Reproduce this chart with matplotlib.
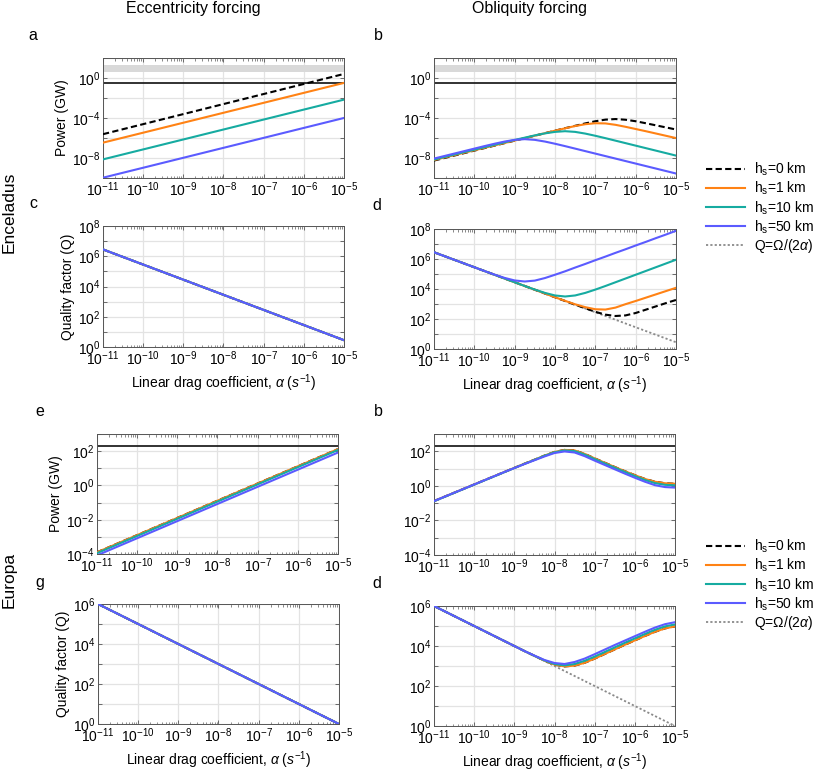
import numpy as np
import matplotlib
matplotlib.use('Agg')
import matplotlib.pyplot as plt
from matplotlib.ticker import FixedLocator, FuncFormatter, LogLocator, NullFormatter
from matplotlib.lines import Line2D

plt.rcParams['font.family'] = ['Liberation Sans', 'DejaVu Sans']
plt.rcParams['mathtext.fontset'] = 'custom'
plt.rcParams['mathtext.rm'] = 'Liberation Sans'
plt.rcParams['mathtext.it'] = 'Liberation Sans:italic'
plt.rcParams['mathtext.bf'] = 'Liberation Sans:bold'

# ---------------- data (log10 values) ----------------
# sample positions: log10(alpha) from -11 to -5 every 0.25 decade
log_alpha = np.arange(-11.0, -4.99, 0.25)
log_alpha_ends = [-11.0, -5.0]

series_labels = [r'h$_\mathregular{s}$=0 km', r'h$_\mathregular{s}$=1 km',
                 r'h$_\mathregular{s}$=10 km', r'h$_\mathregular{s}$=50 km']
q_label = r'Q=$\Omega$/(2$\alpha$)'

# Enceladus, eccentricity forcing power (log10 GW), straight lines
enc_ecc_P = {
    'h0':  [-5.60, 0.45],
    'h1':  [-6.45, -0.45],
    'h10': [-8.13, -2.13],
    'h50': [-9.97, -3.97],
}
# Enceladus, obliquity forcing power (log10 GW)
enc_obl_P_h0 = [-8.25, -8.00, -7.75, -7.50, -7.25, -7.00, -6.75, -6.50, -6.25, -6.00, -5.75, -5.50, -5.25,
                -5.00, -4.76, -4.52, -4.30, -4.14, -4.08, -4.15, -4.30, -4.50, -4.71, -4.92, -5.13]
enc_obl_P_h1 = [-8.20, -7.95, -7.71, -7.46, -7.22, -6.97, -6.73, -6.48, -6.24, -5.99, -5.75, -5.50, -5.25,
                -5.01, -4.78, -4.60, -4.50, -4.52, -4.66, -4.86, -5.08, -5.30, -5.53, -5.76, -5.99]
enc_obl_P_h10 = [-8.15, -7.90, -7.65, -7.40, -7.16, -6.91, -6.67, -6.42, -6.18, -5.95, -5.72, -5.52, -5.37,
                 -5.30, -5.37, -5.54, -5.76, -6.00, -6.25, -6.50, -6.75, -7.00, -7.25, -7.50, -7.75]
enc_obl_P_h50 = [-8.05, -7.80, -7.55, -7.30, -7.05, -6.80, -6.56, -6.34, -6.17, -6.10, -6.17, -6.34, -6.56,
                 -6.80, -7.05, -7.30, -7.55, -7.80, -8.05, -8.30, -8.55, -8.80, -9.05, -9.30, -9.55]
enc_heat_obs = -0.47          # black horizontal line (log10 GW)
enc_band = [0.63, 1.30]       # grey band (log10 GW)

# Enceladus Q, eccentricity forcing (all coincide with Q = Omega/(2 alpha))
enc_ecc_Q = [6.45, 0.45]
enc_Qref = [6.45, 0.45]
# Enceladus Q, obliquity forcing (log10 Q)
enc_obl_Q_h0 = [6.45, 6.20, 5.95, 5.70, 5.45, 5.20, 4.95, 4.70, 4.45, 4.20, 3.95, 3.70, 3.45,
                3.20, 2.95, 2.72, 2.48, 2.29, 2.20, 2.24, 2.40, 2.62, 2.84, 3.06, 3.27]
enc_obl_Q_h1 = [6.45, 6.20, 5.95, 5.70, 5.45, 5.20, 4.95, 4.70, 4.45, 4.20, 3.95, 3.70, 3.45,
                3.21, 2.98, 2.79, 2.65, 2.63, 2.76, 2.99, 3.20, 3.42, 3.64, 3.86, 4.08]
enc_obl_Q_h10 = [6.45, 6.20, 5.95, 5.70, 5.45, 5.20, 4.95, 4.70, 4.45, 4.20, 3.96, 3.74, 3.57,
                 3.50, 3.57, 3.74, 3.96, 4.20, 4.45, 4.70, 4.95, 5.20, 5.45, 5.70, 5.95]
enc_obl_Q_h50 = [6.45, 6.20, 5.95, 5.70, 5.45, 5.20, 4.96, 4.74, 4.57, 4.50, 4.56, 4.73, 4.95,
                 5.18, 5.43, 5.67, 5.92, 6.16, 6.41, 6.65, 6.90, 7.14, 7.39, 7.63, 7.88]

# Europa, eccentricity forcing power (log10 GW), straight lines
eur_ecc_P = {
    'h0':  [-3.90, 2.12],
    'h1':  [-3.90, 2.12],
    'h10': [-3.95, 2.07],
    'h50': [-4.08, 1.92],
}
# Europa, obliquity forcing power (log10 GW)
eur_obl_P_h0 = [-0.88, -0.64, -0.40, -0.16, 0.08, 0.32, 0.56, 0.80, 1.04, 1.28, 1.51, 1.75, 1.96,
                2.08, 2.05, 1.85, 1.59, 1.34, 1.09, 0.85, 0.62, 0.40, 0.24, 0.15, 0.12]
eur_obl_P_h1 = [-0.88, -0.64, -0.40, -0.16, 0.08, 0.32, 0.56, 0.80, 1.04, 1.28, 1.51, 1.75, 1.96,
                2.08, 2.05, 1.85, 1.59, 1.34, 1.09, 0.85, 0.62, 0.40, 0.24, 0.15, 0.12]
eur_obl_P_h10 = [-0.89, -0.65, -0.41, -0.17, 0.07, 0.31, 0.55, 0.79, 1.03, 1.27, 1.50, 1.74, 1.94,
                 2.05, 2.01, 1.81, 1.55, 1.30, 1.05, 0.81, 0.57, 0.34, 0.16, 0.06, 0.03]
eur_obl_P_h50 = [-0.88, -0.64, -0.40, -0.16, 0.08, 0.32, 0.56, 0.80, 1.03, 1.26, 1.48, 1.70, 1.90,
                 1.99, 1.93, 1.72, 1.46, 1.21, 0.96, 0.71, 0.47, 0.24, 0.04, -0.07, -0.10]
eur_heat_obs = 2.31

eur_ecc_Q = [6.0, 0.0]
eur_Qref = [6.0, 0.0]
eur_obl_Q_h0 = [6.00, 5.75, 5.50, 5.25, 5.00, 4.75, 4.50, 4.25, 4.00, 3.75, 3.51, 3.27, 3.07,
                2.98, 3.02, 3.16, 3.37, 3.60, 3.83, 4.06, 4.28, 4.50, 4.71, 4.88, 4.98]
eur_obl_Q_h1 = [6.00, 5.75, 5.50, 5.25, 5.00, 4.75, 4.50, 4.25, 4.00, 3.75, 3.51, 3.27, 3.07,
                2.98, 3.02, 3.16, 3.37, 3.60, 3.83, 4.06, 4.28, 4.50, 4.71, 4.88, 4.98]
eur_obl_Q_h10 = [6.00, 5.75, 5.50, 5.25, 5.00, 4.75, 4.50, 4.25, 4.00, 3.75, 3.51, 3.28, 3.10,
                 3.03, 3.10, 3.26, 3.47, 3.70, 3.93, 4.16, 4.38, 4.60, 4.81, 4.98, 5.08]
eur_obl_Q_h50 = [6.00, 5.75, 5.50, 5.25, 5.00, 4.75, 4.50, 4.25, 4.00, 3.75, 3.52, 3.30, 3.15,
                 3.10, 3.20, 3.37, 3.59, 3.82, 4.05, 4.27, 4.49, 4.71, 4.92, 5.09, 5.19]

# ---------------- styles ----------------
C_BLACK = '#000000'
C_ORANGE = '#ff8214'
C_TEAL = '#16aba1'
C_BLUE = '#5b5bff'
C_GREY = '#8a8a8a'
LW = 1.5
styles = [dict(color=C_BLACK, lw=LW, dashes=(3.0, 1.6)),
          dict(color=C_ORANGE, lw=LW),
          dict(color=C_TEAL, lw=LW),
          dict(color=C_BLUE, lw=LW)]
qstyle = dict(color=C_GREY, lw=1.3, dashes=(1.2, 1.2))

W, H = 817, 772
fig = plt.figure(figsize=(W / 100, H / 100), dpi=100)


def add_ax(l, r, t, b):
    return fig.add_axes([l / W, 1 - b / H, (r - l) / W, (b - t) / H])


def fmt_factory(labelled):
    def f(v, pos):
        e = int(round(np.log10(v)))
        if e in labelled:
            return r'$\mathregular{10^{%d}}$' % e
        return ''
    return f


def style_ax(ax, ylim, ymajor, ylab):
    ax.set_xscale('log')
    ax.set_yscale('log')
    ax.set_xlim(1e-11, 1e-5)
    ax.set_ylim(*ylim)
    ax.xaxis.set_major_locator(FixedLocator([10.0 ** k for k in range(-11, -4)]))
    ax.xaxis.set_major_formatter(FuncFormatter(fmt_factory(range(-11, -4))))
    ax.xaxis.set_minor_locator(LogLocator(base=10, subs=np.arange(2, 10), numticks=20))
    ax.xaxis.set_minor_formatter(NullFormatter())
    ax.yaxis.set_major_locator(FixedLocator([10.0 ** k for k in ymajor]))
    ax.yaxis.set_major_formatter(FuncFormatter(fmt_factory(ylab)))
    ax.yaxis.set_minor_locator(FixedLocator([]))
    ax.tick_params(which='both', direction='in', top=True, right=True, labelsize=10,
                   color='#555555')
    ax.tick_params(axis='x', pad=2)
    ax.tick_params(axis='y', pad=2)
    ax.tick_params(which='major', length=3, width=0.6)
    ax.tick_params(which='minor', length=1.8, width=0.5)
    ax.grid(True, which='major', color='#e3e3e3', lw=0.9)
    ax.set_axisbelow(True)
    for s in ax.spines.values():
        s.set_color('#555555')
        s.set_linewidth(0.7)


def P(vals):
    return 10.0 ** np.asarray(vals)


XA = 10.0 ** log_alpha
XE = 10.0 ** np.asarray(log_alpha_ends)
xlabel = r'Linear drag coefficient, $\alpha$ ($s^{-1}$)'

# --- a: Enceladus eccentricity power
axa = add_ax(103, 344, 58, 178)
style_ax(axa, (1e-10, 10 ** 2.05), range(-10, 3, 2), [0, -4, -8])
axa.axhspan(10 ** enc_band[0], 10 ** enc_band[1], color='#d9d9d9', lw=0, zorder=1.5)
axa.axhline(10 ** enc_heat_obs, color='#222222', lw=1.3, zorder=1.6)
for k, st in zip(['h0', 'h1', 'h10', 'h50'], styles):
    axa.plot(XE, P(enc_ecc_P[k]), **st, zorder=3)
axa.set_ylabel('Power (GW)', fontsize=10, labelpad=2)

# --- b: Enceladus obliquity power
axb = add_ax(434, 676, 58, 178)
style_ax(axb, (1e-10, 10 ** 2.05), range(-10, 3, 2), [0, -4, -8])
axb.axhspan(10 ** enc_band[0], 10 ** enc_band[1], color='#d9d9d9', lw=0, zorder=1.5)
axb.axhline(10 ** enc_heat_obs, color='#222222', lw=1.3, zorder=1.6)
for vals, st in zip([enc_obl_P_h0, enc_obl_P_h1, enc_obl_P_h10, enc_obl_P_h50], styles):
    axb.plot(XA, P(vals), **st, zorder=3)

# --- c: Enceladus eccentricity Q
axc = add_ax(103, 344, 226, 347)
style_ax(axc, (1, 1e8), range(0, 9), [0, 2, 4, 6, 8])
axc.plot(XE, P(enc_Qref), **qstyle, zorder=2.5)
for st in styles:
    axc.plot(XE, P(enc_ecc_Q), **st, zorder=3)
axc.set_ylabel('Quality factor (Q)', fontsize=10, labelpad=2)
axc.set_xlabel(xlabel, fontsize=10, labelpad=3)

# --- d: Enceladus obliquity Q
axd = add_ax(434, 676, 229, 349)
style_ax(axd, (1, 1e8), range(0, 9), [0, 2, 4, 6, 8])
axd.plot(XE, P(enc_Qref), **qstyle, zorder=2.5)
for vals, st in zip([enc_obl_Q_h0, enc_obl_Q_h1, enc_obl_Q_h10, enc_obl_Q_h50], styles):
    axd.plot(XA, P(vals), **st, zorder=3)
axd.set_xlabel(xlabel, fontsize=10, labelpad=3)

# --- e: Europa eccentricity power
axe = add_ax(97, 338, 434, 554)
style_ax(axe, (1e-4, 1e3), range(-4, 4), [-4, -2, 0, 2])
axe.axhline(10 ** eur_heat_obs, color='#222222', lw=1.3, zorder=1.6)
for k, st in zip(['h0', 'h1', 'h10', 'h50'], styles):
    axe.plot(XE, P(eur_ecc_P[k]), **st, zorder=3)
axe.set_ylabel('Power (GW)', fontsize=10, labelpad=2)

# --- f: Europa obliquity power
axf = add_ax(434, 675, 434, 555)
style_ax(axf, (1e-4, 1e3), range(-4, 4), [-4, -2, 0, 2])
axf.axhline(10 ** eur_heat_obs, color='#222222', lw=1.3, zorder=1.6)
for vals, st in zip([eur_obl_P_h0, eur_obl_P_h1, eur_obl_P_h10, eur_obl_P_h50], styles):
    axf.plot(XA, P(vals), **st, zorder=3)

# --- g: Europa eccentricity Q
axg = add_ax(98, 339, 604, 724)
style_ax(axg, (1, 1e6), range(0, 7), [0, 2, 4, 6])
axg.plot(XE, P(eur_Qref), **qstyle, zorder=2.5)
for st in styles:
    axg.plot(XE, P(eur_ecc_Q), **st, zorder=3)
axg.set_ylabel('Quality factor (Q)', fontsize=10, labelpad=2)
axg.set_xlabel(xlabel, fontsize=10, labelpad=3)

# --- h: Europa obliquity Q
axh = add_ax(434, 675, 606, 726)
style_ax(axh, (1, 1e6), range(0, 7), [0, 2, 4, 6])
axh.plot(XE, P(eur_Qref), **qstyle, zorder=2.5)
for vals, st in zip([eur_obl_Q_h0, eur_obl_Q_h1, eur_obl_Q_h10, eur_obl_Q_h50], styles):
    axh.plot(XA, P(vals), **st, zorder=3)
axh.set_xlabel(xlabel, fontsize=10, labelpad=3)

# ---------------- texts ----------------
def ftext(x, y, s, **kw):
    fig.text(x / W, 1 - y / H, s, **kw)

ftext(193, 9, 'Eccentricity forcing', fontsize=11.5, ha='center', va='center')
ftext(530, 9, 'Obliquity forcing', fontsize=11.5, ha='center', va='center')
for (x, y, s) in [(33, 35, 'a'), (378, 35, 'b'), (33, 204, 'c'), (377, 206, 'd'),
                  (40, 412, 'e'), (378, 412, 'b'), (40, 582, 'g'), (377, 583, 'd')]:
    ftext(x, y, s, fontsize=11.5, ha='center', va='center')
ftext(9, 212, 'Enceladus', fontsize=12.5, rotation=90, ha='center', va='center')
ftext(9, 580, 'Europa', fontsize=12.5, rotation=90, ha='center', va='center')

# ---------------- legends ----------------
handles = [Line2D([], [], **st) for st in styles] + [Line2D([], [], **qstyle)]
labels = series_labels + [q_label]
for ytop in (161, 538):
    fig.legend(handles, labels, loc='upper left', bbox_to_anchor=(706 / W, 1 - ytop / H),
               frameon=False, fontsize=10, handlelength=2.8, handletextpad=0.65,
               labelspacing=0.12, borderpad=0, borderaxespad=0)

fig.savefig('out.png', dpi=100)
